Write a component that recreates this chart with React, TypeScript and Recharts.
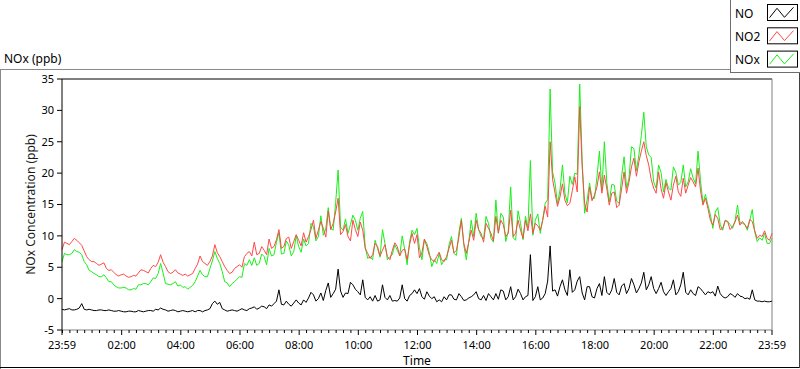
import { LineChart, Line, XAxis, YAxis, Legend, ReferenceLine } from "recharts";

// sample times, minutes after 23:59 (5 min steps)
const minutes = [
  0, 5, 10, 15, 20, 25, 30, 35, 40, 45, 50, 55, 60, 65, 70, 75, 80, 85, 90, 95,
  100, 105, 110, 115, 120, 125, 130, 135, 140, 145, 150, 155, 160, 165, 170, 175, 180, 185, 190, 195,
  200, 205, 210, 215, 220, 225, 230, 235, 240, 245, 250, 255, 260, 265, 270, 275, 280, 285, 290, 295,
  300, 305, 310, 315, 320, 325, 330, 335, 340, 345, 350, 355, 360, 365, 370, 375, 380, 385, 390, 395,
  400, 405, 410, 415, 420, 425, 430, 435, 440, 445, 450, 455, 460, 465, 470, 475, 480, 485, 490, 495,
  500, 505, 510, 515, 520, 525, 530, 535, 540, 545, 550, 555, 560, 565, 570, 575, 580, 585, 590, 595,
  600, 605, 610, 615, 620, 625, 630, 635, 640, 645, 650, 655, 660, 665, 670, 675, 680, 685, 690, 695,
  700, 705, 710, 715, 720, 725, 730, 735, 740, 745, 750, 755, 760, 765, 770, 775, 780, 785, 790, 795,
  800, 805, 810, 815, 820, 825, 830, 835, 840, 845, 850, 855, 860, 865, 870, 875, 880, 885, 890, 895,
  900, 905, 910, 915, 920, 925, 930, 935, 940, 945, 950, 955, 960, 965, 970, 975, 980, 985, 990, 995,
  1000, 1005, 1010, 1015, 1020, 1025, 1030, 1035, 1040, 1045, 1050, 1055, 1060, 1065, 1070, 1075, 1080, 1085, 1090, 1095,
  1100, 1105, 1110, 1115, 1120, 1125, 1130, 1135, 1140, 1145, 1150, 1155, 1160, 1165, 1170, 1175, 1180, 1185, 1190, 1195,
  1200, 1205, 1210, 1215, 1220, 1225, 1230, 1235, 1240, 1245, 1250, 1255, 1260, 1265, 1270, 1275, 1280, 1285, 1290, 1295,
  1300, 1305, 1310, 1315, 1320, 1325, 1330, 1335, 1340, 1345, 1350, 1355, 1360, 1365, 1370, 1375, 1380, 1385, 1390, 1395,
  1400, 1405, 1410, 1415, 1420, 1425, 1430, 1435, 1440,
];

const no = [
  -1.7, -1.8, -1.7, -1.6, -1.8, -1.8, -1.7, -1.5, -0.8, -1.7,
  -1.8, -1.7, -1.8, -1.9, -1.9, -1.8, -1.8, -1.9, -1.9, -1.8,
  -1.9, -2.0, -2.0, -1.9, -2.0, -2.1, -2.1, -2.0, -2.0, -2.1,
  -2.1, -1.9, -2.0, -2.1, -2.0, -1.9, -1.9, -2.0, -1.7, -1.8,
  -1.5, -1.7, -1.8, -2.0, -1.9, -1.8, -1.9, -2.1, -2.0, -1.9,
  -2.0, -2.1, -2.0, -1.9, -2.1, -1.9, -1.9, -2.1, -1.9, -1.8,
  -1.6, -0.8, -0.4, -0.9, -0.6, -1.6, -1.8, -2.0, -1.9, -1.8,
  -1.9, -2.0, -1.8, -1.6, -1.8, -1.9, -1.6, -1.5, -1.3, -1.7,
  -1.5, -1.2, -1.3, -1.6, -1.0, -1.2, -0.8, -0.4, 1.4, -0.9,
  -1.0, -0.4, -0.9, -1.2, -0.7, -0.2, -0.7, -1.0, -0.2, -0.6,
  0.1, 1.0, 0.6, -0.4, 0.0, 0.9, -0.3, 1.3, 2.5, 0.2,
  0.8, 1.5, 4.7, 1.2, 0.2, 0.9, 0.8, 2.6, 2.2, 1.5,
  1.1, 0.6, 3.0, 0.2, -0.2, 0.3, -0.4, 0.5, -0.4, -0.2,
  2.2, 0.2, -0.2, 0.5, -0.4, -0.3, -0.4, 0.1, 2.2, 0.0,
  -0.4, 0.5, 0.8, 1.4, 0.8, 1.6, 0.3, -0.1, 1.1, 0.4,
  0.0, 0.3, -0.5, -0.2, -0.5, 0.3, -0.2, 0.6, 0.6, -0.1,
  -0.2, 0.8, 0.3, -0.3, -0.2, 0.1, 0.3, 0.6, 1.1, 0.0,
  -0.2, 0.5, -0.3, 0.8, 0.3, -0.2, 0.8, -0.1, 1.4, 1.2,
  -0.2, 0.3, 1.9, -0.2, 0.3, 1.5, 0.8, -0.2, 0.3, 0.5,
  7.0, -0.3, 0.3, 1.9, -0.2, 0.1, 0.8, 2.8, 8.4, 1.2,
  1.4, 0.4, 1.9, 3.0, 1.4, 0.5, 4.6, 1.0, 1.4, 2.8,
  3.5, 0.9, -0.2, 1.9, 1.9, 0.3, 0.1, 1.6, 2.4, 0.5,
  3.5, 1.0, 0.6, 1.4, 3.2, 1.0, 0.6, 2.0, 2.4, 0.8,
  1.6, 3.2, 2.2, 0.9, 1.6, 2.5, 4.2, 1.4, 2.2, 3.5,
  1.6, 0.8, 1.6, 2.6, 1.1, 0.5, 1.1, 1.6, 3.0, 0.6,
  1.1, 2.2, 4.2, 1.0, 0.6, 1.4, 0.8, 0.5, 1.9, 1.6,
  1.1, 0.6, 1.1, 0.9, 1.1, 0.4, 2.0, 0.8, 0.3, 0.1,
  0.3, 0.8, 0.6, 0.2, 0.8, 0.4, 0.3, 0.0, 0.1, -0.1,
  1.4, -0.2, -0.4, -0.4, -0.5, -0.4, -0.5, -0.5, -0.4,
];

const no2 = [
  7.8, 9.0, 8.8, 8.6, 9.1, 9.6, 9.3, 8.9, 8.5, 7.6,
  6.7, 6.2, 5.9, 5.9, 5.6, 5.3, 5.5, 5.7, 4.8, 4.5,
  4.6, 4.2, 3.8, 3.6, 3.8, 3.9, 3.6, 3.4, 3.5, 3.7,
  3.6, 4.1, 4.6, 4.5, 4.3, 4.1, 4.8, 5.3, 5.1, 5.8,
  7.0, 5.8, 5.1, 4.3, 4.0, 4.2, 4.6, 4.1, 3.9, 3.7,
  3.9, 3.6, 3.8, 4.0, 4.8, 5.5, 6.8, 5.9, 5.6, 5.3,
  5.9, 6.8, 8.6, 7.3, 6.7, 5.9, 5.1, 4.5, 4.0, 4.2,
  4.8, 5.1, 5.4, 5.0, 6.7, 7.2, 7.5, 6.8, 9.0, 7.0,
  7.2, 8.3, 7.7, 7.0, 9.5, 8.0, 8.3, 9.4, 11.0, 8.0,
  8.3, 9.6, 9.8, 8.0, 9.1, 10.2, 9.3, 8.4, 10.5, 9.0,
  9.9, 11.0, 12.5, 9.6, 10.9, 12.3, 11.2, 9.8, 14.0, 11.0,
  12.0, 13.8, 16.0, 10.2, 10.7, 11.8, 9.9, 9.2, 12.5, 11.0,
  9.9, 12.2, 10.9, 8.0, 7.2, 6.4, 7.0, 8.8, 8.3, 6.8,
  7.7, 8.6, 6.7, 6.2, 7.7, 8.9, 8.3, 6.8, 7.7, 7.9,
  6.2, 8.6, 10.4, 8.8, 10.2, 6.5, 7.3, 9.5, 8.3, 6.9,
  6.2, 5.9, 6.7, 7.4, 6.2, 5.9, 6.7, 8.0, 9.3, 7.3,
  7.7, 9.8, 12.5, 8.8, 7.2, 9.0, 10.9, 9.3, 12.5, 11.0,
  10.4, 9.0, 12.0, 11.2, 10.4, 9.2, 13.1, 10.5, 12.5, 11.8,
  9.9, 10.4, 14.1, 9.9, 10.4, 12.5, 10.9, 9.6, 12.5, 10.8,
  13.5, 10.4, 12.0, 11.6, 10.9, 12.5, 14.7, 13.0, 25.0, 19.0,
  16.8, 14.7, 16.2, 18.3, 15.7, 14.8, 15.2, 17.2, 19.4, 17.0,
  30.6, 21.0, 15.2, 13.8, 17.8, 15.6, 16.5, 17.8, 20.2, 16.8,
  19.7, 17.5, 14.9, 16.8, 17.0, 14.5, 14.9, 17.5, 20.2, 16.8,
  18.6, 21.0, 22.4, 19.5, 21.8, 23.5, 25.0, 22.8, 21.3, 19.0,
  17.6, 16.8, 20.2, 17.5, 16.0, 18.5, 17.0, 15.7, 18.1, 19.5,
  17.0, 16.3, 19.2, 16.8, 18.1, 19.3, 18.6, 17.8, 20.8, 17.2,
  14.9, 16.0, 14.4, 12.5, 11.7, 13.4, 12.8, 11.0, 11.2, 12.4,
  12.3, 11.0, 11.5, 12.2, 13.3, 11.7, 12.3, 11.8, 11.2, 12.6,
  12.3, 10.8, 9.6, 10.1, 9.9, 10.8, 9.6, 9.3, 10.4,
];

const nox = [
  5.9, 7.2, 7.0, 7.0, 7.2, 7.8, 7.5, 7.4, 7.0, 5.9,
  5.4, 4.5, 4.3, 4.0, 3.8, 3.5, 3.5, 3.8, 3.3, 2.7,
  2.7, 2.2, 1.9, 1.7, 1.7, 1.8, 1.7, 1.4, 1.4, 1.6,
  1.5, 2.2, 2.2, 2.4, 2.4, 2.2, 2.7, 3.3, 3.2, 4.0,
  5.6, 4.1, 2.4, 2.3, 2.2, 2.4, 2.7, 2.0, 2.2, 1.8,
  1.9, 1.5, 1.8, 2.1, 2.7, 3.6, 4.5, 3.8, 3.5, 3.5,
  4.8, 6.0, 7.5, 6.4, 5.6, 4.3, 2.7, 2.5, 1.9, 2.4,
  2.7, 3.1, 3.5, 3.4, 5.6, 5.3, 6.2, 5.3, 6.5, 5.3,
  5.6, 7.1, 6.7, 5.4, 8.0, 6.8, 7.0, 9.0, 10.5, 7.1,
  7.2, 9.2, 8.5, 6.8, 7.5, 10.0, 8.3, 7.4, 9.5, 8.4,
  8.8, 12.0, 11.5, 9.2, 9.9, 13.2, 10.1, 11.1, 14.5, 11.2,
  10.9, 15.3, 20.5, 11.4, 10.9, 12.7, 10.4, 11.8, 13.3, 12.5,
  10.9, 12.8, 13.9, 8.2, 6.4, 6.7, 6.2, 9.3, 8.0, 6.6,
  11.0, 8.8, 6.2, 6.7, 7.0, 8.6, 7.7, 6.9, 10.0, 7.9,
  5.4, 9.1, 10.9, 10.2, 11.2, 8.1, 6.2, 9.4, 8.8, 7.3,
  5.1, 6.2, 5.6, 7.2, 5.4, 6.2, 6.2, 8.6, 9.9, 7.2,
  6.9, 10.6, 12.8, 8.5, 6.2, 9.1, 12.5, 9.9, 13.6, 11.0,
  9.9, 9.5, 13.1, 12.0, 9.6, 9.0, 15.7, 10.4, 13.6, 13.0,
  9.1, 10.7, 17.8, 9.7, 9.3, 14.0, 12.0, 9.4, 13.1, 11.3,
  22.0, 10.1, 12.5, 13.5, 10.4, 12.6, 15.2, 15.8, 33.4, 20.2,
  18.4, 15.1, 17.3, 21.3, 16.8, 15.3, 19.5, 18.2, 20.0, 19.8,
  34.2, 21.9, 13.6, 15.7, 18.4, 15.9, 16.0, 19.4, 23.5, 17.3,
  25.0, 18.5, 15.4, 18.2, 18.1, 15.5, 15.2, 19.5, 22.6, 17.6,
  19.2, 24.2, 23.9, 20.4, 22.9, 26.0, 29.7, 24.2, 22.9, 22.5,
  18.6, 17.6, 21.3, 20.1, 17.0, 19.0, 17.6, 17.3, 21.0, 20.1,
  18.1, 18.5, 21.3, 17.8, 18.6, 20.7, 19.2, 18.3, 23.5, 18.8,
  15.2, 16.6, 14.9, 13.4, 11.2, 13.8, 14.5, 11.8, 10.9, 12.5,
  12.3, 11.8, 11.2, 12.4, 14.9, 12.1, 12.0, 11.8, 10.9, 12.5,
  14.2, 10.6, 9.1, 9.7, 9.3, 10.4, 8.8, 8.8, 9.6,
];

const yTicks = [-5, 0, 5, 10, 15, 20, 25, 30, 35];
const xMajorTicks = [0, 121, 241, 361, 481, 601, 721, 841, 961, 1081, 1201, 1321, 1440];
const xMajorLabels = ["23:59", "02:00", "04:00", "06:00", "08:00", "10:00", "12:00", "14:00", "16:00", "18:00", "20:00", "22:00", "23:59"];

const legendNames = ["NO", "NO2", "NOx"];
const legendColors = ["#000000", "#ff4848", "#18f018"];

const FONT = "'Noto Sans', 'DejaVu Sans', sans-serif";

const data = minutes.map((t, i) => ({ t, no: no[i], no2: no2[i], nox: nox[i] }));

// every quarter hour on the clock, plus both 23:59 ends
const xTicks: number[] = [0];
for (let m = 1; m < 1440; m += 15) xTicks.push(m);
xTicks.push(1440);

const TimeTick = (props: any) => {
  const { x, y, payload } = props;
  const idx = xMajorTicks.indexOf(payload.value);
  const major = idx >= 0;
  return (
    <g>
      <line x1={x} x2={x} y1={y} y2={y + (major ? 5 : 3)} stroke="#000" />
      {major && (
        <text x={x} y={y + 19} textAnchor="middle" fontSize={11} fontFamily={FONT} fill="#000">
          {xMajorLabels[idx]}
        </text>
      )}
    </g>
  );
};

const LegendBox = () => (
  <svg width={70} height={73} style={{ display: "block" }}>
    <line x1={0.5} x2={0.5} y1={0} y2={73} stroke="#6e6e6e" />
    <line x1={0} x2={70} y1={72.5} y2={72.5} stroke="#6e6e6e" />
    {legendNames.map((name, i) => {
      const top = 4 + i * 23.3;
      return (
        <g key={name}>
          <text x={5} y={top + 13.5} fontSize={12} fontFamily={FONT} fill="#000">
            {name}
          </text>
          <rect x={37.5} y={top + 0.5} width={30} height={16} fill="#fff" stroke="#000" />
          <polyline
            points={`39.5,${top + 13.7} 47,${top + 4.3} 54.5,${top + 13.3} 63.5,${top + 3.3}`}
            fill="none"
            stroke={legendColors[i]}
          />
        </g>
      );
    })}
  </svg>
);

export default function App() {
  return (
    <div style={{ position: "absolute", left: 0, top: 0, width: 800, height: 369, background: "#fff" }}>
      <svg width={800} height={369} style={{ position: "absolute", left: 0, top: 0 }}>
        <text x={4} y={63} fontSize={12} fontFamily={FONT} fill="#000">
          NOx (ppb)
        </text>
        <line x1={0} x2={730} y1={69.5} y2={69.5} stroke="#8a8a8a" />
        <line x1={0.5} x2={0.5} y1={69} y2={369} stroke="#8a8a8a" />
        <line x1={0} x2={800} y1={367.5} y2={367.5} stroke="#000" />
        <line x1={799.5} x2={799.5} y1={72} y2={368} stroke="#404040" />
      </svg>
      <div style={{ position: "absolute", left: 0, top: 0 }}>
        <LineChart width={800} height={369} data={data} margin={{ top: 79, right: 28, bottom: 0, left: 0 }}>
          <XAxis
            dataKey="t"
            type="number"
            domain={[0, 1440]}
            ticks={xTicks}
            interval={0}
            height={39}
            tickSize={0}
            tickMargin={0}
            tickLine={false}
            axisLine={{ stroke: "#808080" }}
            tick={<TimeTick />}
            label={{
              content: ({ viewBox }: any) => (
                <text x={viewBox.x + viewBox.width / 2} y={365} textAnchor="middle" fontSize={12} fontFamily={FONT} fill="#000">
                  Time
                </text>
              ),
            }}
          />
          <YAxis
            type="number"
            domain={[-5, 35]}
            ticks={yTicks}
            interval={0}
            width={62}
            tickSize={5}
            tickMargin={3}
            tickLine={{ stroke: "#000" }}
            axisLine={{ stroke: "#000" }}
            tick={{ fontSize: 11, fontFamily: FONT, fill: "#000" }}
            label={{
              content: ({ viewBox }: any) => {
                const cy = viewBox.y + viewBox.height / 2;
                return (
                  <text transform={`translate(31, ${cy}) rotate(-90)`} dy="0.35em" textAnchor="middle" fontSize={12} fontFamily={FONT} fill="#1a1a1a">
                    NOx Concentration (ppb)
                  </text>
                );
              },
            }}
          />
          <ReferenceLine y={35} stroke="#000" ifOverflow="extendDomain" />
          <ReferenceLine x={1440} stroke="#808080" />
          <Legend
            layout="horizontal"
            verticalAlign="middle"
            align="center"
            wrapperStyle={{ top: 0, left: 730, width: 70, height: 73 }}
            content={() => <LegendBox />}
          />
          <Line type="linear" dataKey="no" name="NO" stroke={legendColors[0]} strokeWidth={1} dot={false} isAnimationActive={false} />
          <Line type="linear" dataKey="nox" name="NOx" stroke={legendColors[2]} strokeWidth={1} dot={false} isAnimationActive={false} />
          <Line type="linear" dataKey="no2" name="NO2" stroke={legendColors[1]} strokeWidth={1} dot={false} isAnimationActive={false} />
        </LineChart>
      </div>
    </div>
  );
}
